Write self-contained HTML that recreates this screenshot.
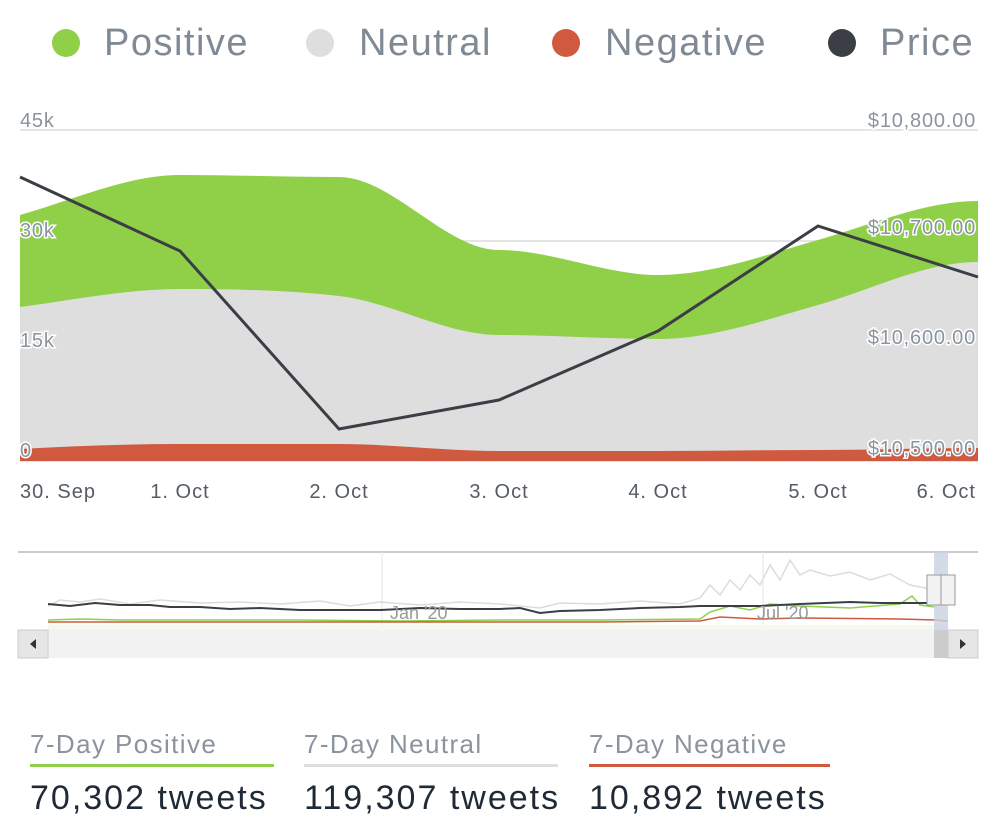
<!DOCTYPE html>
<html><head><style>
body{margin:0;background:#fff;width:998px;height:828px;overflow:hidden;font-family:"Liberation Sans",sans-serif}
</style></head><body>
<svg width="998" height="828" style="position:absolute;left:0;top:0" font-family="Liberation Sans, sans-serif">
<g font-size="38" fill="#7f8a95" letter-spacing="1.5">
<circle cx="66" cy="43" r="14" fill="#8fd048"/><text x="104" y="55">Positive</text>
<circle cx="320" cy="43" r="14" fill="#dedede"/><text x="359" y="55">Neutral</text>
<circle cx="566" cy="43" r="14" fill="#d05a3f"/><text x="605" y="55">Negative</text>
<circle cx="842" cy="43" r="14" fill="#3b3f45"/><text x="880" y="55">Price</text>
</g>
<g stroke="#e4e4e4" stroke-width="2">
<line x1="20" y1="130" x2="978" y2="130"/><line x1="20" y1="241" x2="978" y2="241"/><line x1="20" y1="351" x2="978" y2="351"/><line x1="20" y1="461" x2="978" y2="461"/>
</g>
<path d="M20,215 C73,200 127,175 180,175 C233,175 286,177 339,177 C392,177 446,250 499,250 C552,250 605,275 658,275 C711,275 765,255 818,240 C871,225 925,201 978,201 L978,461 L20,461Z" fill="#8fd048"/>
<path d="M20,307 C73,300 127,289 180,289 C233,289 286,290 339,296 C392,302 446,335 499,335 C552,335 605,339 658,339 C711,339 765,320 818,305 C871,290 925,262 978,262 L978,461 L20,461Z" fill="#dedede"/>
<path d="M20,449 C73,446 127,444 180,444 C233,444 286,444 339,444 C392,444 446,451 499,451 C552,451 605,451 658,451 C711,451 765,450 818,450 C871,450 925,448 978,448 L978,461 L20,461Z" fill="#cf5a3f"/>
<g font-size="20" fill="#8a949e" stroke="#fff" stroke-width="3" paint-order="stroke" letter-spacing="0.8">
<text x="20" y="127">45k</text><text x="20" y="237">30k</text><text x="20" y="347">15k</text><text x="20" y="457">0</text>
<text x="976" y="127" text-anchor="end">$10,800.00</text><text x="976" y="234" text-anchor="end">$10,700.00</text><text x="976" y="344" text-anchor="end">$10,600.00</text><text x="976" y="455" text-anchor="end">$10,500.00</text>
</g>
<polyline points="20,177 180,251 339,429 499,400 658,331 818,226 978,277" fill="none" stroke="#3b3f45" stroke-width="3"/>
<g font-size="20" fill="#555c63" letter-spacing="1">
<text x="20" y="498">30. Sep</text><text x="180" y="498" text-anchor="middle">1. Oct</text><text x="339" y="498" text-anchor="middle">2. Oct</text><text x="499" y="498" text-anchor="middle">3. Oct</text><text x="658" y="498" text-anchor="middle">4. Oct</text><text x="818" y="498" text-anchor="middle">5. Oct</text><text x="976" y="498" text-anchor="end">6. Oct</text>
</g>
<!-- navigator -->
<line x1="18" y1="552" x2="978" y2="552" stroke="#ccc" stroke-width="2"/>
<line x1="382" y1="552" x2="382" y2="629" stroke="#e6e6e6"/><line x1="763" y1="552" x2="763" y2="629" stroke="#e6e6e6"/>
<rect x="48" y="625" width="900" height="5" fill="#f4f9ee"/>
<polyline points="48,606 60,600 80,602 100,599 130,604 160,600 200,603 240,602 280,604 320,601 350,606 380,602 420,605 460,602 500,604 540,608 560,603 600,604 640,601 680,604 700,598 710,585 720,595 730,580 740,590 750,575 760,585 770,565 780,580 790,560 800,575 810,570 830,576 850,572 870,580 890,574 910,585 935,590" fill="none" stroke="#dcdcdc" stroke-width="1.5"/>
<polyline points="48,620 80,619 120,620 200,620 300,620 400,621 500,620 600,620 700,619 710,612 730,606 750,610 770,604 800,606 850,608 900,604 912,596 920,605 935,607" fill="none" stroke="#8fd048" stroke-width="1.5"/>
<polyline points="48,622 200,622 400,622 600,622 700,621 720,617 760,619 800,618 900,619 935,620 948,621" fill="none" stroke="#d05a3f" stroke-width="1.5"/>
<polyline points="48,604 70,606 95,603 120,605 150,605 170,607 200,607 230,609 260,608 300,610 340,610 380,610 420,608 460,609 500,609 520,608 540,613 560,611 600,610 640,608 680,607 700,606 760,606 800,604 850,602 880,603 910,603 935,603" fill="none" stroke="#3b3f45" stroke-width="2"/>
<text x="390" y="619" font-size="18" fill="#999">Jan '20</text><text x="757" y="619" font-size="18" fill="#999">Jul '20</text>
<rect x="18" y="630" width="960" height="28" fill="#f2f2f2"/>
<rect x="18" y="630" width="30" height="28" fill="#e6e6e6" stroke="#ccc"/>
<rect x="948" y="630" width="30" height="28" fill="#e6e6e6" stroke="#ccc"/>
<path d="M30,644 l6,-5 v10z" fill="#333"/><path d="M966,644 l-6,-5 v10z" fill="#333"/>
<rect x="934" y="552" width="14" height="106" fill="#c8d2e3" opacity="0.8"/>
<rect x="934" y="630" width="14" height="28" fill="#ccc"/>
<rect x="927" y="575" width="14" height="30" fill="#f2f2f2" stroke="#999"/><rect x="941" y="575" width="14" height="30" fill="#f2f2f2" stroke="#999"/>
<!-- stats -->
<g font-size="26" fill="#8a949e" letter-spacing="1.4">
<text x="30" y="753">7-Day Positive</text><text x="304" y="753">7-Day Neutral</text><text x="589" y="753">7-Day Negative</text>
</g>
<rect x="30" y="764" width="244" height="3" fill="#8fd048"/><rect x="304" y="764" width="254" height="3" fill="#dedede"/><rect x="589" y="764" width="241" height="3" fill="#d05a3f"/>
<g font-size="34" fill="#1f2a36" letter-spacing="2">
<text x="30" y="809">70,302 tweets</text><text x="304" y="809">119,307 tweets</text><text x="589" y="809">10,892 tweets</text>
</g>
</svg>
</body></html>
